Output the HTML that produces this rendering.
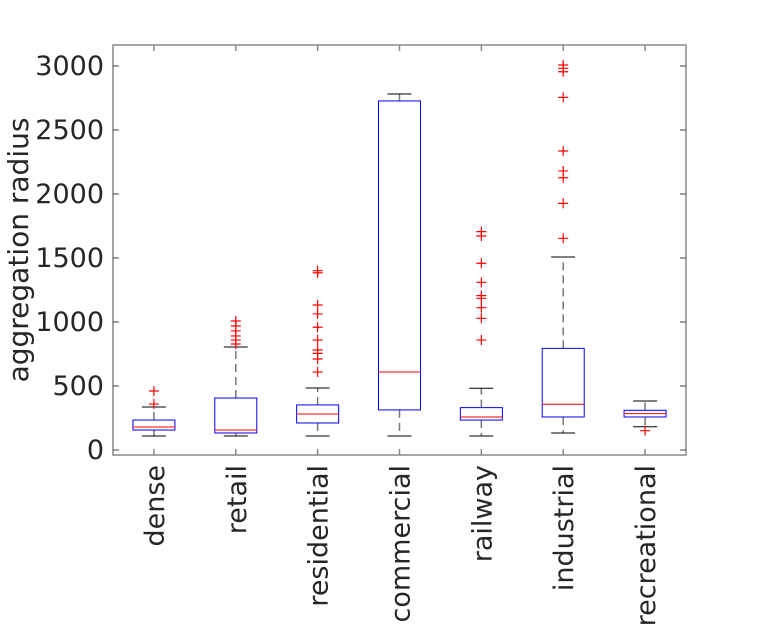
<!DOCTYPE html>
<html><head><meta charset="utf-8"><style>
body{margin:0;background:#fff}
svg{display:block;font-family:"DejaVu Sans","Liberation Sans",sans-serif}
</style></head><body>
<svg id="c" width="759" height="625"></svg>
<script>
const categories=["dense","retail","residential","commercial","railway","industrial","recreational"];
const q1=[156,133,211,313,234,258,258];
const medians=[180,156,281,609,258,357,284];
const q3=[234,406,352,2727,331,794,310];
const whiskLo=[109,109,109,109,109,133,182];
const whiskHi=[336,805,484,2781,482,1508,383];
const outliers=[[461,359],[1008,969,930,891,859,828],[1401,1385,1133,1063,959,859,781,755,711,609],[],[1706,1672,1459,1310,1206,1185,1112,1029,859],[3008,2982,2955,2755,2336,2180,2127,1927,1654],[151]];
const yTicks=[0,500,1000,1500,2000,2500,3000];

const L=113,R=686,T=45,B=455;
const NS="http://www.w3.org/2000/svg";
const svg=document.getElementById("c");
const y=v=>450-v*0.128;
const bw=(R-L)/categories.length;
const x=i=>L+(i+0.5)*bw;
function el(tag,attrs,parent){const e=document.createElementNS(NS,tag);for(const k in attrs)e.setAttribute(k,attrs[k]);(parent||svg).appendChild(e);return e;}

const frame=el("rect",{x:L,y:T,width:R-L,height:B-T,fill:"none",stroke:"#888","stroke-width":1.5});



yTicks.forEach(v=>{
  const g=el("g",{});
  
  
  el("line",{x1:L,x2:L+6,y1:y(v),y2:y(v),stroke:"#444"},g);
  el("line",{x1:R-6,x2:R,y1:y(v),y2:y(v),stroke:"#444"},g);
  const t=el("text",{x:104,y:y(v)+9,"text-anchor":"end","font-size":27,fill:"#262626"},g);
  t.textContent=v;
});
const yt=el("text",{transform:"translate(28,250) rotate(-90)","text-anchor":"middle","font-size":28,fill:"#262626"});
yt.textContent="aggregation radius";



categories.forEach((c,i)=>{
  const cx=x(i);
  const g=el("g",{});
  
  
  el("line",{x1:cx,x2:cx,y1:B,y2:B-6,stroke:"#888","stroke-width":1.5},g);
  el("line",{x1:cx,x2:cx,y1:T,y2:T+6,stroke:"#888","stroke-width":1.5},g);
  el("line",{x1:cx,x2:cx,y1:y(q3[i]),y2:y(whiskHi[i]),stroke:"#777","stroke-width":1.5,"stroke-dasharray":"8,5"},g);
  el("line",{x1:cx,x2:cx,y1:y(q1[i]),y2:y(whiskLo[i]),stroke:"#777","stroke-width":1.5,"stroke-dasharray":"8,5"},g);
  el("line",{x1:cx-12,x2:cx+12,y1:y(whiskHi[i]),y2:y(whiskHi[i]),stroke:"#000"},g);
  el("line",{x1:cx-12,x2:cx+12,y1:y(whiskLo[i]),y2:y(whiskLo[i]),stroke:"#000"},g);
  el("rect",{x:cx-21,y:y(q3[i]),width:42,height:y(q1[i])-y(q3[i]),fill:"none",stroke:"#00f","stroke-width":1},g);
  el("line",{x1:cx-21,x2:cx+21,y1:y(medians[i]),y2:y(medians[i]),stroke:"#f00"},g);
  outliers[i].forEach(v=>{
    const oy=y(v);
    el("path",{d:`M${cx-5},${oy}H${cx+5}M${cx},${oy-5}V${oy+5}`,stroke:"#f00","stroke-width":1.2},g);
  });
  const t=el("text",{transform:`translate(${cx+10},465) rotate(-90)`,"text-anchor":"end","font-size":27,fill:"#262626"});
  t.textContent=c;
  
  
});
</script>
</body></html>
